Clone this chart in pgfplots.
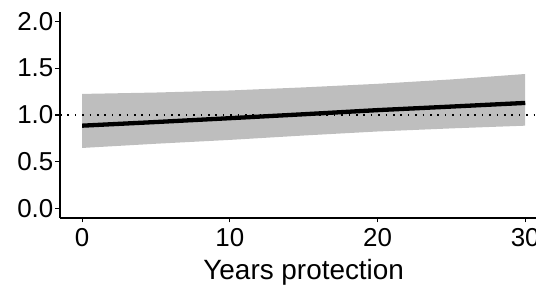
\documentclass[border=0pt]{standalone}
\usepackage{pgfplots}
\pgfplotsset{compat=1.18}
\usepgfplotslibrary{fillbetween}
\usepackage{fontspec}
\setmainfont{Liberation Sans}
\definecolor{ribbon}{RGB}{190,190,190}
\begin{document}
\begin{tikzpicture}
\begin{axis}[
  name=ax,
  scale only axis,
  width=487.4bp, height=206.0bp,
  xmin=-1.5, xmax=31.5, ymin=-0.1, ymax=2.1,
  axis x line*=bottom, axis y line*=left,
  axis line style={line width=1.1bp, black, -},
  xtick={0,10,20,30}, ytick={0,0.5,1,1.5,2},
  yticklabel style={/pgf/number format/fixed,/pgf/number format/fixed zerofill,/pgf/number format/precision=1},
  /pgf/number format/assume math mode=true,
  tick style={line width=1.1bp, black},
  tick align=outside, major tick length=4.5bp,
  tick label style={font=\fontsize{26}{30}\selectfont, text=black},
  xticklabel style={inner ysep=1bp, yshift=-5bp},
  yticklabel style={inner xsep=2bp},
  xlabel={Years protection},
  xlabel style={font=\fontsize{28}{32}\selectfont, at={(axis description cs:0.5,0)}, anchor=base, yshift=-61bp},
  clip=false,
]
\addplot[name path=up, draw=none, forget plot] coordinates {(0,1.225) (5,1.240) (10,1.262) (15,1.295) (20,1.333) (25,1.380) (30,1.438)};
\addplot[name path=lo, draw=none, forget plot] coordinates {(0,0.648) (5,0.693) (10,0.734) (15,0.781) (20,0.824) (25,0.857) (30,0.886)};
\addplot[ribbon, draw=none] fill between[of=up and lo];
\addplot[black, line width=1.5bp, dash pattern=on 1.6bp off 5.8bp] coordinates {(-1.5,1) (31.5,1)};
\addplot[black, line width=4.3bp] coordinates {(0,0.886) (5,0.925) (10,0.966) (15,1.008) (20,1.052) (25,1.090) (30,1.129)};
\end{axis}
\pgfresetboundingbox
\path[use as bounding box] ([shift={(-60bp,-73bp)}]ax.south west) rectangle ([shift={(476bp,218bp)}]ax.south west);
\end{tikzpicture}
\end{document}
